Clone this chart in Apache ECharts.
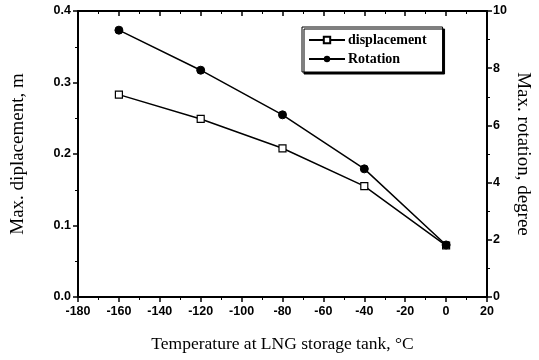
<!DOCTYPE html>
<html>
<head>
<meta charset="utf-8">
<script src="https://cdn.jsdelivr.net/npm/echarts@6/dist/echarts.min.js"></script>
<style>
  html, body { margin: 0; padding: 0; background: #fff; }
  #main { width: 539px; height: 360px; }
</style>
</head>
<body>
<div id="main"></div>
<script>
var temps = [-160, -120, -80, -40, 0];
var displacement = [0.283, 0.249, 0.208, 0.155, 0.072];
var rotation = [9.33, 7.93, 6.37, 4.48, 1.82];

var chart = echarts.init(document.getElementById('main'));

var tickFont = { color: '#000', fontFamily: 'Liberation Sans', fontWeight: 'bold', fontSize: 12.5 };
function nameFont(size) {
    return { color: '#000', fontFamily: 'Liberation Serif', fontSize: size };
}

function pairs(vals) {
    return temps.map(function (t, i) { return [t, vals[i]]; });
}

var option = {
    animation: false,
    backgroundColor: '#fff',
    grid: { left: 78, right: 52, top: 11, bottom: 63, containLabel: false, outerBoundsMode: 'none' },
    legend: {
        orient: 'vertical',
        left: 302,
        top: 27,
        padding: [6, 16, 6, 6],
        itemGap: 5,
        itemWidth: 36,
        itemHeight: 8,
        borderColor: '#000',
        borderWidth: 1,
        backgroundColor: '#fff',
        shadowColor: '#000',
        shadowOffsetX: 2,
        shadowOffsetY: 2,
        textStyle: { color: '#000', fontFamily: 'Liberation Serif', fontWeight: 'bold', fontSize: 14, padding: [0, 0, 0, -2] },
        data: ['displacement', 'Rotation']
    },
    xAxis: [{
        type: 'value',
        min: -180, max: 20, interval: 20,
        position: 'bottom',
        name: 'Temperature at LNG storage tank, °C',
        nameLocation: 'middle',
        nameGap: 38,
        nameTextStyle: nameFont(17.5),
        axisLine: { onZero: false, lineStyle: { color: '#000', width: 2 } },
        axisTick: { length: 5, lineStyle: { color: '#000', width: 1.5 } },
        minorTick: { show: true, splitNumber: 2, length: 3, lineStyle: { color: '#000' } },
        axisLabel: Object.assign({ margin: 8 }, tickFont),
        splitLine: { show: false }
    }, {
        type: 'value',
        min: -180, max: 20, interval: 20,
        position: 'top',
        axisLine: { onZero: false, lineStyle: { color: '#000', width: 2 } },
        axisTick: { inside: true, length: 5, lineStyle: { color: '#000', width: 1.5 } },
        minorTick: { show: true, splitNumber: 2, length: 3, lineStyle: { color: '#000' } },
        axisLabel: { show: false },
        splitLine: { show: false }
    }],
    yAxis: [{
        type: 'value',
        min: 0, max: 0.4, interval: 0.1,
        position: 'left',
        name: 'Max. diplacement, m',
        nameLocation: 'middle',
        nameGap: 50,
        nameTextStyle: nameFont(19),
        axisLine: { show: true, onZero: false, lineStyle: { color: '#000', width: 2 } },
        axisTick: { show: true, length: 5, lineStyle: { color: '#000', width: 1.5 } },
        minorTick: { show: true, splitNumber: 2, length: 3, lineStyle: { color: '#000' } },
        axisLabel: Object.assign({ margin: 7, formatter: function (v) { return v.toFixed(1); } }, tickFont),
        splitLine: { show: false }
    }, {
        type: 'value',
        min: 0, max: 10, interval: 2,
        position: 'right',
        name: 'Max. rotation, degree',
        nameLocation: 'middle',
        nameGap: 26,
        nameMoveOverlap: false,
        nameRotate: -90,
        nameTextStyle: nameFont(19),
        axisLine: { show: true, onZero: false, lineStyle: { color: '#000', width: 2 } },
        axisTick: { show: true, length: 5, lineStyle: { color: '#000', width: 1.5 } },
        minorTick: { show: true, splitNumber: 2, length: 3, lineStyle: { color: '#000' } },
        axisLabel: Object.assign({ margin: 6 }, tickFont),
        splitLine: { show: false }
    }],
    series: [{
        name: 'displacement',
        type: 'line',
        xAxisIndex: 0,
        yAxisIndex: 0,
        data: pairs(displacement),
        symbol: 'rect',
        symbolSize: 7,
        itemStyle: { color: '#fff', borderColor: '#000', borderWidth: 1.2 },
        lineStyle: { color: '#000', width: 1.5 },
        z: 3
    }, {
        name: 'Rotation',
        type: 'line',
        xAxisIndex: 0,
        yAxisIndex: 1,
        data: pairs(rotation),
        symbol: 'circle',
        symbolSize: 8,
        itemStyle: { color: '#000', borderColor: '#000' },
        lineStyle: { color: '#000', width: 1.5 },
        z: 4
    }]
};

chart.setOption(option);
</script>
</body>
</html>
